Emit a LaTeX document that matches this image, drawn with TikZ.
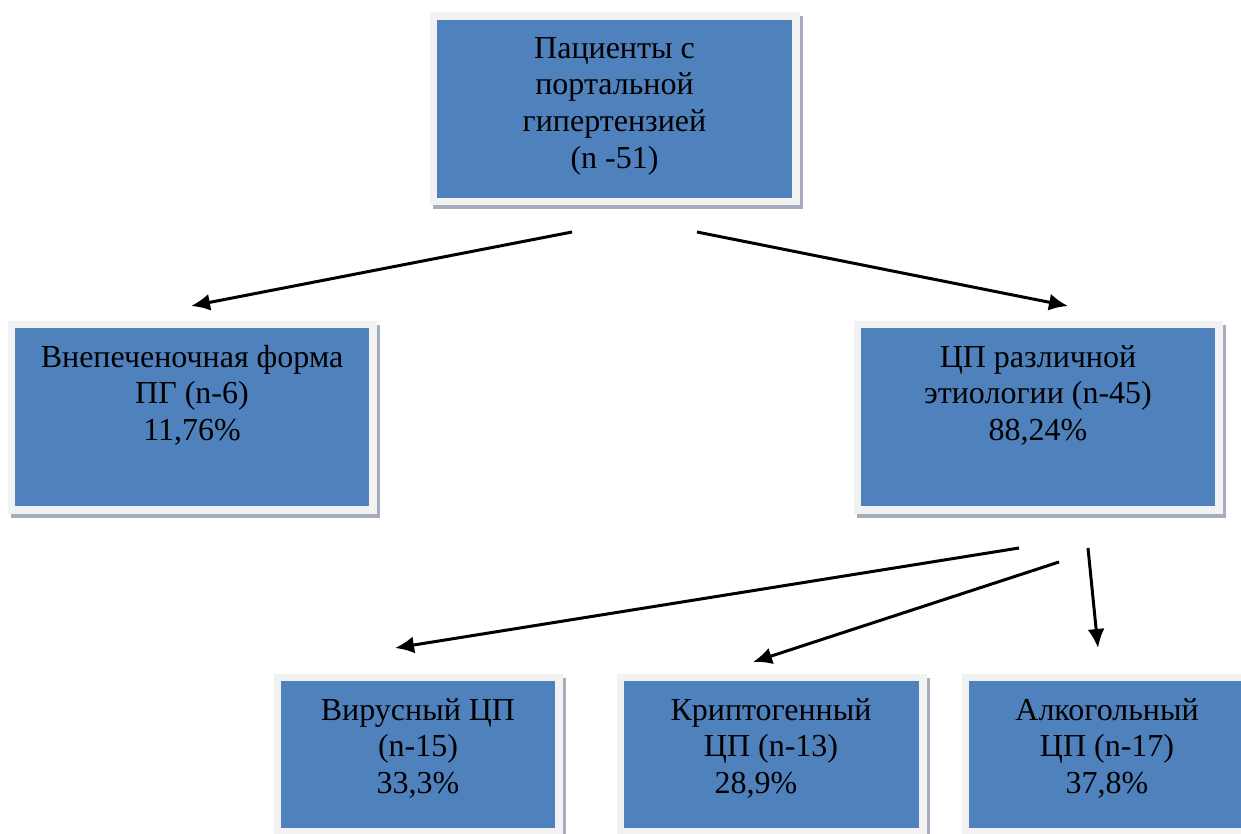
\documentclass[tikz,border=0pt]{standalone}
\usepackage{fontspec}
\setmainfont{Liberation Serif}
\usetikzlibrary{arrows.meta}
\definecolor{boxblue}{HTML}{4F81BD}
\definecolor{framec}{HTML}{F2F2F2}
\definecolor{shadowc}{HTML}{A5ADBD}
\tikzset{
  bluebox/.style={fill=boxblue, draw=none, inner sep=0pt},
  boxtext/.style={anchor=north, inner sep=0pt, align=center,
    font=\fontsize{32}{36.7}\selectfont},
  arr/.style={line width=3pt, -{Latex[length=19pt,width=17pt]}}
}
% \pgbox{name}{x1}{y1}{x2}{y2} : blue area corners in px
\newcommand\pgbox[5]{%
  \fill[shadowc] (#2-7.5+3,#3-7.5+4) rectangle (#4+7.5+3,#5+7.5+4);
  \fill[framec] (#2-7.5,#3-7.5) rectangle (#4+7.5,#5+7.5);
  \node[bluebox, minimum width={(#4-#2)*1pt}, minimum height={(#5-#3)*1pt}]
     (#1) at ({(#2+#4)/2},{(#3+#5)/2}) {};
}
\begin{document}
\begin{tikzpicture}[x=1pt,y=-1pt]
\useasboundingbox (0,0) rectangle (1241,834);
\pgbox{top}{437}{20}{792}{198}
\pgbox{left}{15}{328}{369}{506}
\pgbox{right}{861}{328}{1215}{506}
\pgbox{virus}{281}{681}{555}{828}
\pgbox{crypto}{624}{681}{919}{828}
\pgbox{alco}{969}{681}{1245}{828}

\node[boxtext] (ttop) at (614.5,32.3) {\strut Пациенты с\\портальной\\гипертензией\\(n -51)};
\node[boxtext] (tleft) at (192,341.3) {\strut Внепеченочная форма\\ПГ (n-6)\\11,76\%};
\node[boxtext] (tright) at (1038,341.3) {\strut ЦП различной\\этиологии (n-45)\\88,24\%};
\node[boxtext] (tvirus) at (418,694.3) {\strut Вирусный ЦП\\(n-15)\\33,3\%};
\node[boxtext] (tcrypto) at (771,694.3) {\strut Криптогенный\\ЦП (n-13)\\28,9\%\hspace*{30pt}};
\node[boxtext] (talco) at (1107,694.3) {\strut Алкогольный\\ЦП (n-17)\\37,8\%};

\coordinate (s1) at (572,232);  \coordinate (e1) at (191,306);
\coordinate (s2) at (697,232);  \coordinate (e2) at (1068,306);
\coordinate (s3) at (1019,548); \coordinate (e3) at (395,648);
\coordinate (s4) at (1059,562); \coordinate (e4) at (753,662);
\coordinate (s5) at (1088,548); \coordinate (e5) at (1098,648);
\draw[arr] (s1) -- (e1);
\draw[arr] (s2) -- (e2);
\draw[arr] (s3) -- (e3);
\draw[arr] (s4) -- (e4);
\draw[arr] (s5) -- (e5);
\end{tikzpicture}
\end{document}
